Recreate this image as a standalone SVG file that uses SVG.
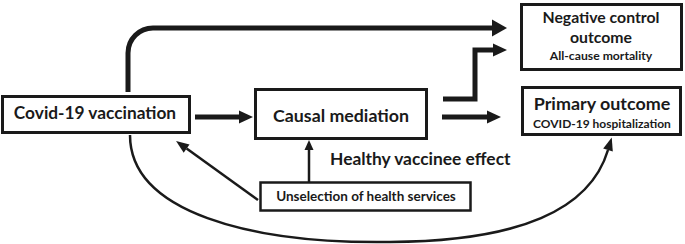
<svg xmlns="http://www.w3.org/2000/svg" width="685" height="244" viewBox="0 0 685 244">
<style>
.box{fill:#fff;stroke:#1a1a1a;stroke-width:3}
.t{font-family:Lato,"Open Sans","Liberation Sans",sans-serif;font-weight:bold;fill:#1a1a1a;text-anchor:middle}
.thick{fill:none;stroke:#1a1a1a;stroke-width:5}
.thin{fill:none;stroke:#1a1a1a;stroke-width:2.5}
</style>
<defs>
<marker id="big" markerUnits="userSpaceOnUse" viewBox="0 -10 16 20" markerWidth="16" markerHeight="20" refX="0" refY="0" orient="auto" overflow="visible"><path d="M0,-8.5 L15,0 L0,8.5 z" fill="#1a1a1a"/></marker>
<marker id="med" markerUnits="userSpaceOnUse" viewBox="0 -8 16 16" markerWidth="16" markerHeight="16" refX="0" refY="0" orient="auto" overflow="visible"><path d="M0,-6.5 L14,0 L0,6.5 z" fill="#1a1a1a"/></marker>
<marker id="sm" markerUnits="userSpaceOnUse" viewBox="0 -6 14 12" markerWidth="14" markerHeight="12" refX="0" refY="0" orient="auto" overflow="visible"><path d="M0,-5 L13,0 L0,5 z" fill="#1a1a1a"/></marker>
<marker id="xs" markerUnits="userSpaceOnUse" viewBox="0 -5 10 10" markerWidth="10" markerHeight="10" refX="0" refY="0" orient="auto" overflow="visible"><path d="M0,-4.5 L10,0 L0,4.5 z" fill="#1a1a1a"/></marker>
</defs>
<g id="connectors">
<path class="thick" d="M128,92 V53 A25,25 0 0 1 153,28 H492" marker-end="url(#big)"/>
<path class="thick" d="M195,117 H239" marker-end="url(#med)"/>
<path class="thick" d="M443,99 H475 V50 H493" marker-end="url(#med)"/>
<path class="thick" d="M442,117 H487" marker-end="url(#med)"/>
<path class="thin" d="M309,182 V150" marker-end="url(#xs)"/>
<path class="thin" d="M258,200 L186.6,148.6" marker-end="url(#sm)"/>
<path class="thin" d="M130,135 C130,212 250,244 390,242 C520,241 590,210 608,150" marker-end="url(#sm)"/>
</g>
<g id="vaccination">
<rect class="box" x="2.5" y="96.5" width="187" height="36"/>
<text class="t" x="95" y="119" font-size="17.3">Covid-19 vaccination</text>
</g>
<g id="mediation">
<rect class="box" x="255.5" y="89.5" width="171" height="49"/>
<text class="t" x="341" y="122" font-size="17.8">Causal mediation</text>
</g>
<g id="negative">
<rect class="box" x="521.5" y="4.5" width="160" height="65"/>
<text class="t" x="601" y="23" font-size="15.8">Negative control</text>
<text class="t" x="601" y="43" font-size="15.8">outcome</text>
<text class="t" x="601" y="60" font-size="12.2">All-cause mortality</text>
</g>
<g id="primary">
<rect class="box" x="522.5" y="87.5" width="158" height="47"/>
<text class="t" x="602" y="110" font-size="17.9">Primary outcome</text>
<text class="t" x="602" y="128" font-size="12">COVID-19 hospitalization</text>
</g>
<g id="unselection">
<rect class="box" x="260.5" y="182.5" width="210" height="28" style="stroke-width:2.5"/>
<text class="t" x="366" y="201" font-size="13.5">Unselection of health services</text>
</g>
<g id="hve">
<text class="t" x="330" y="165" font-size="17.4" style="text-anchor:start">Healthy vaccinee effect</text>
</g>
</svg>
